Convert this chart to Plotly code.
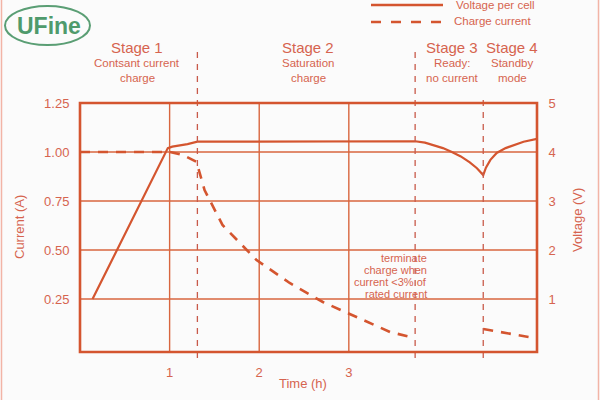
import plotly.graph_objects as go

# ---------------- data ----------------
volt_time = [0.14, 0.98, 1.03, 1.10, 1.20, 1.31, 3.74, 3.85, 3.95, 4.05, 4.15, 4.25, 4.35, 4.43, 4.50,
             4.53, 4.58, 4.65, 4.75, 4.85, 4.95, 5.10]
volt_vals = [1.00, 4.08, 4.11, 4.13, 4.16, 4.21, 4.22, 4.19, 4.14, 4.08, 4.00, 3.91, 3.79, 3.67, 3.53,
             3.68, 3.84, 3.98, 4.08, 4.15, 4.21, 4.27]

curr_time_a = [0.0, 1.00, 1.15, 1.30, 1.39, 1.59, 1.97, 2.34, 2.71, 2.99, 3.46, 3.74]
curr_vals_a = [1.00, 1.00, 0.985, 0.95, 0.806, 0.628, 0.449, 0.332, 0.235, 0.179, 0.082, 0.051]
curr_time_b = [4.50, 5.08]
curr_vals_b = [0.097, 0.051]

stage_bounds = [1.31, 3.74, 4.50]
stage_titles = ["Stage 1", "Stage 2", "Stage 3", "Stage 4"]
stage_desc = [["Contsant current", "charge"], ["Saturation", "charge"],
              ["Ready:", "no current"], ["Standby", "mode"]]
stage_centers_px = [137, 308, 452, 512]

current_ticks = [0.25, 0.50, 0.75, 1.00, 1.25]
voltage_ticks = [1, 2, 3, 4, 5]
time_ticks = [1, 2, 3]

# ---------------- styling ----------------
RED = "#d4552f"
GRID = "#d8663f"
TXT = "#d6644f"
FONT = "Liberation Sans"

L, R, T, B = 80, 537, 103, 352
W, H = 600, 400


def xp(px):
    return (px - L) / (R - L)


def yp(py):
    return (B - py) / (B - T)


fig = go.Figure()

fig.add_trace(go.Scatter(x=volt_time, y=volt_vals, yaxis="y2", mode="lines",
                         line=dict(color=RED, width=2.2), hoverinfo="skip"))
fig.add_trace(go.Scatter(x=curr_time_a, y=curr_vals_a, mode="lines",
                         line=dict(color=RED, width=2.6, dash="10px,8px"), hoverinfo="skip"))
fig.add_trace(go.Scatter(x=curr_time_b, y=curr_vals_b, mode="lines",
                         line=dict(color=RED, width=2.6, dash="10px,8px"), hoverinfo="skip"))

shapes = []
for v in [0.25, 0.5, 0.75, 1.0]:
    shapes.append(dict(type="line", xref="paper", yref="y", x0=0, x1=1, y0=v, y1=v,
                       line=dict(color=GRID, width=1.4), layer="below"))
for t in time_ticks:
    shapes.append(dict(type="line", xref="x", yref="paper", x0=t, x1=t, y0=0, y1=1,
                       line=dict(color=GRID, width=1.4), layer="below"))
stage_tops = [48, 48, 95]
for sb, top in zip(stage_bounds, stage_tops):
    shapes.append(dict(type="line", xref="x", yref="paper", x0=sb, x1=sb, y0=yp(358), y1=yp(top),
                       line=dict(color="#c85a4a", width=1.3, dash="6px,6px")))
shapes.append(dict(type="rect", xref="paper", yref="paper", x0=0, x1=1, y0=0, y1=1,
                   line=dict(color=RED, width=2.6)))
shapes.append(dict(type="line", xref="paper", yref="paper", x0=xp(371), x1=xp(443), y0=yp(5), y1=yp(5),
                   line=dict(color=RED, width=2.6)))
shapes.append(dict(type="line", xref="paper", yref="paper", x0=xp(371), x1=xp(443), y0=yp(22), y1=yp(22),
                   line=dict(color=RED, width=2.6, dash="10px,10px")))
shapes.append(dict(type="circle", xref="paper", yref="paper", x0=xp(5), x1=xp(90), y0=yp(45), y1=yp(6),
                   line=dict(color="#5a9e74", width=2)))
shapes.append(dict(type="line", xref="paper", yref="paper", x0=xp(1.5), x1=xp(1.5), y0=yp(400), y1=yp(0),
                   line=dict(color="#f2b4a6", width=1.5)))
shapes.append(dict(type="line", xref="paper", yref="paper", x0=xp(598.5), x1=xp(598.5), y0=yp(400), y1=yp(0),
                   line=dict(color="#f2b4a6", width=1.5)))

ann = []
for title, desc, cx in zip(stage_titles, stage_desc, stage_centers_px):
    ann.append(dict(text=title, x=xp(cx), y=yp(47), xref="paper", yref="paper", showarrow=False,
                    font=dict(size=15, color=TXT, family=FONT), xanchor="center", yanchor="middle"))
    for i, d in enumerate(desc):
        ann.append(dict(text=d, x=xp(cx), y=yp(63 + 15 * i), xref="paper", yref="paper", showarrow=False,
                        font=dict(size=11.5, color=TXT, family=FONT), xanchor="center", yanchor="middle"))

note = ["terminate", "charge when", "current <3% of", "rated current"]
for i, n in enumerate(note):
    ann.append(dict(text=n, x=xp(429), y=yp(258 + 12 * i), xref="paper", yref="paper", showarrow=False,
                    font=dict(size=11, color=TXT, family=FONT), xanchor="right", yanchor="middle"))

ann.append(dict(text="Voltage per cell", x=xp(454), y=yp(5), xref="paper", yref="paper", showarrow=False,
                font=dict(size=11.5, color=TXT, family=FONT), xanchor="left", yanchor="middle"))
ann.append(dict(text="Charge current", x=xp(452), y=yp(21), xref="paper", yref="paper", showarrow=False,
                font=dict(size=11.5, color=TXT, family=FONT), xanchor="left", yanchor="middle"))
ann.append(dict(text="Current (A)", x=xp(19), y=yp(227), xref="paper", yref="paper", showarrow=False,
                textangle=-90, font=dict(size=13, color=TXT, family=FONT), xanchor="center", yanchor="middle"))
ann.append(dict(text="Voltage (V)", x=xp(577), y=yp(220), xref="paper", yref="paper", showarrow=False,
                textangle=-90, font=dict(size=13, color=TXT, family=FONT), xanchor="center", yanchor="middle"))
ann.append(dict(text="Time (h)", x=xp(303), y=yp(383), xref="paper", yref="paper", showarrow=False,
                font=dict(size=13, color=TXT, family=FONT), xanchor="center", yanchor="middle"))
ann.append(dict(text="<b>UFine</b>", x=xp(49), y=yp(26), xref="paper", yref="paper", showarrow=False,
                font=dict(size=23, color="#4f9a6c", family=FONT), xanchor="center", yanchor="middle"))

fig.update_layout(
    width=W, height=H,
    margin=dict(l=L, r=W - R, t=T, b=H - B),
    paper_bgcolor="#fbfbfb", plot_bgcolor="#fbfbfb",
    showlegend=False,
    font=dict(family=FONT, color=TXT, size=12),
    xaxis=dict(range=[0, 5.1], tickvals=time_ticks, ticktext=[str(t) for t in time_ticks],
               showgrid=False, zeroline=False, showline=False, ticks="outside", ticklen=8,
               tickcolor="rgba(0,0,0,0)", tickfont=dict(size=13, color=TXT, family=FONT)),
    yaxis=dict(range=[-0.02, 1.25], tickvals=current_ticks, ticktext=[f"{v:.2f}" for v in current_ticks],
               showgrid=False, zeroline=False, showline=False, ticks="outside", ticklen=7,
               tickcolor="rgba(0,0,0,0)", tickfont=dict(size=13, color=TXT, family=FONT)),
    yaxis2=dict(range=[-0.08, 5.0], overlaying="y", side="right", tickvals=voltage_ticks,
                ticktext=[str(v) for v in voltage_ticks], showgrid=False, zeroline=False, showline=False,
                ticks="outside", ticklen=8, tickcolor="rgba(0,0,0,0)",
                tickfont=dict(size=13, color=TXT, family=FONT)),
    shapes=shapes, annotations=ann,
)

fig.write_html("out.html", config={"displayModeBar": False},
               post_script="document.body.style.margin='0';document.body.style.background='#fbfbfb';")
